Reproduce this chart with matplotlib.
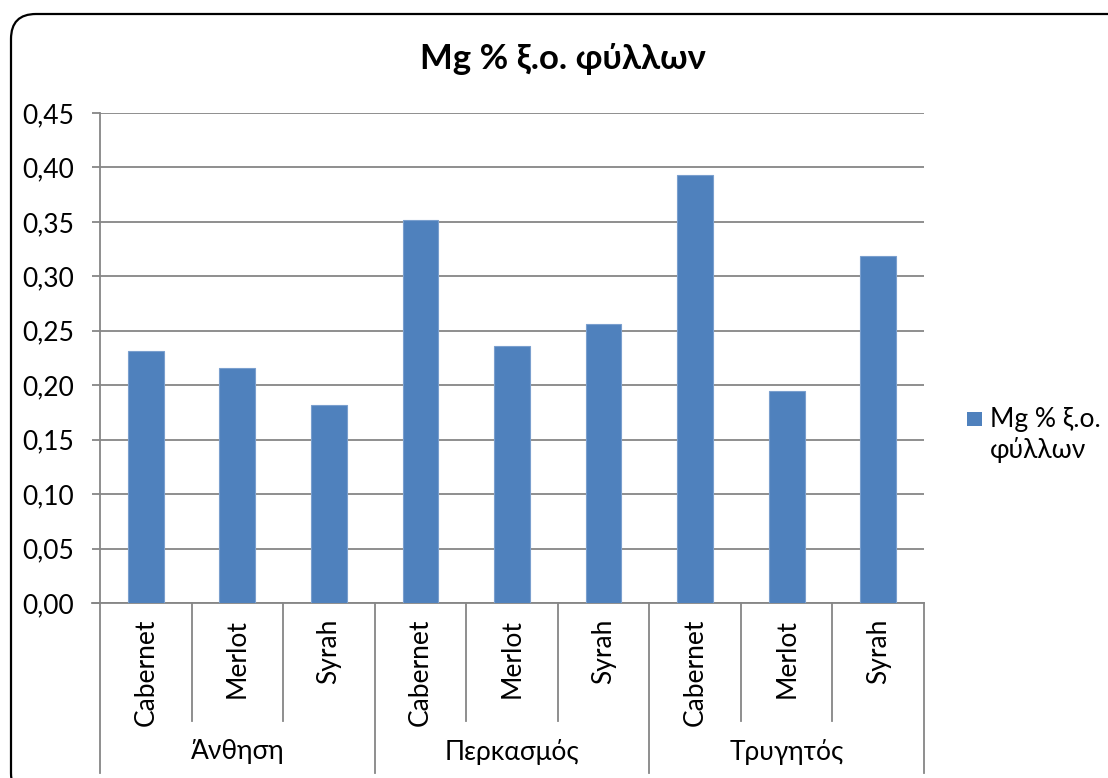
import numpy as np
import matplotlib
matplotlib.use('Agg')
from matplotlib import pyplot as plt
from matplotlib.patches import FancyBboxPatch, Rectangle
from matplotlib.ticker import FuncFormatter

plt.rcParams['font.family'] = ['Lato', 'DejaVu Sans']

# data
stages = ['Άνθηση', 'Περκασμός', 'Τρυγητός']
varieties = ['Cabernet', 'Merlot', 'Syrah']
mg_values = [0.231, 0.216, 0.182,
             0.352, 0.236, 0.256,
             0.393, 0.195, 0.319]
series_name = 'Mg % ξ.ο. φύλλων'
legend_lines = ['Mg % ξ.ο.', 'φύλλων']
y_ticks = [0.00, 0.05, 0.10, 0.15, 0.20, 0.25, 0.30, 0.35, 0.40, 0.45]

W, H = 1108, 778
FS = 19
BAR = '#4F81BD'
fig = plt.figure(figsize=(W / 100, H / 100), dpi=100)
fig.patch.set_facecolor('white')

# rounded chart border (runs off right/bottom edge like the original)
frame = FancyBboxPatch((0.11, -0.2), 11.6, 7.84,
                       boxstyle='round,pad=0,rounding_size=0.25',
                       transform=fig.dpi_scale_trans,
                       facecolor='none', edgecolor='black', linewidth=1.6)
fig.add_artist(frame)

ax_l, ax_r, ax_t, ax_b = 100, 924, 113, 603
ax = fig.add_axes([ax_l / W, (H - ax_b) / H, (ax_r - ax_l) / W, (ax_b - ax_t) / H])

n = len(mg_values)
x = np.arange(n)
ax.bar(x, mg_values, width=0.39, color=BAR, edgecolor='#7A9FCE',
       linewidth=0.8, zorder=3, label=series_name)

ax.set_xlim(-0.5, n - 0.5)
ax.set_ylim(0, 0.45)
ax.set_yticks(y_ticks)
ax.yaxis.set_major_formatter(FuncFormatter(lambda v, p: f'{v:.2f}'.replace('.', ',')))
ax.tick_params(axis='y', length=5.8, width=1.3, color='#868686', labelsize=FS,
               pad=13, direction='out')
ax.grid(axis='y', color='#868686', linewidth=1.3, zorder=0)
ax.set_xticks([])

for s in ['top', 'right']:
    ax.spines[s].set_visible(False)
ax.spines['left'].set_color('#868686')
ax.spines['left'].set_linewidth(1.3)
ax.spines['bottom'].set_color('#868686')
ax.spines['bottom'].set_linewidth(1.3)

# two-level category axis
ph = ax_b - ax_t
tr = ax.get_xaxis_transform()
sub_depth = -(721 - ax_b) / ph
grp_depth = -(773 - ax_b) / ph
for b in np.arange(-0.5, n, 1.0):
    is_group = (b + 0.5) % len(varieties) == 0
    ax.plot([b, b], [0, grp_depth if is_group else sub_depth], transform=tr,
            color='#868686', linewidth=1.3, clip_on=False)
# axis line extends a little left of the y axis, like the tick marks
ax.plot([-0.5 - 8 / ((ax_r - ax_l) / n), -0.5], [0, 0], transform=tr,
        color='#868686', linewidth=1.3, clip_on=False)

for i in range(n):
    ax.text(i, -(619 - ax_b) / ph, varieties[i % len(varieties)], transform=tr,
            rotation=90, ha='center', va='top', fontsize=FS)
for g, name in enumerate(stages):
    ax.text(g * 3 + 1, -(752 - ax_b) / ph, name, transform=tr,
            ha='center', va='center', fontsize=FS)

fig.text(563 / W, 1 - 59 / H, series_name, ha='center', va='center',
         fontsize=25, fontweight='bold')

# legend: square aligned with the first line of the wrapped label
fig.add_artist(Rectangle((967 / W, 1 - 426 / H), 15 / W, 14 / H,
                         transform=fig.transFigure, facecolor=BAR,
                         edgecolor='none'))
fig.text(990 / W, 1 - 427 / H, legend_lines[0], ha='left', va='baseline',
         fontsize=FS)
fig.text(990 / W, 1 - 458 / H, legend_lines[1], ha='left', va='baseline',
         fontsize=FS)

fig.savefig('out.png', dpi=100)
